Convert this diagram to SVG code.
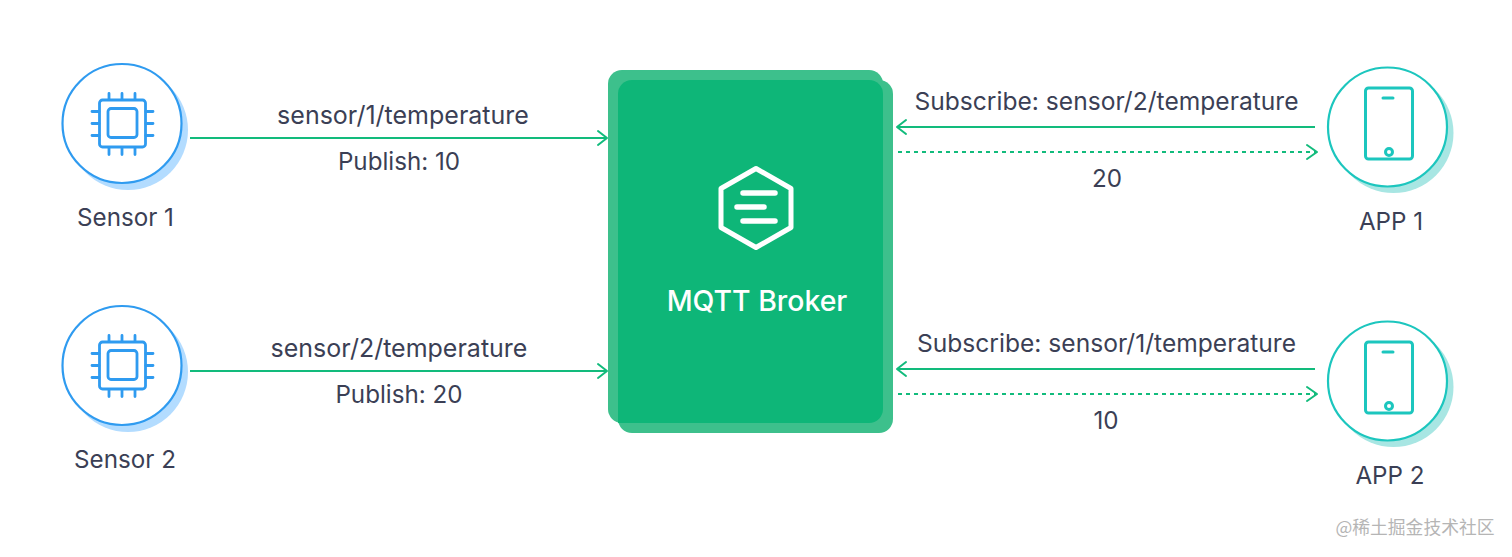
<svg xmlns="http://www.w3.org/2000/svg" width="1512" height="557" viewBox="0 0 1512 557">
<style>
text{font-family:"Inter","Liberation Sans",sans-serif;font-size:24.200px;fill:#3b3f55;text-anchor:middle}
.w{fill:#fff;stroke-width:2.2}
.si{fill:none;stroke:#2f9bf0;stroke-width:2.8;stroke-linecap:round;stroke-linejoin:round}
.ai{fill:none;stroke:#1cc6be;stroke-width:3;stroke-linecap:round;stroke-linejoin:round}
.c{fill:none;stroke:#12bb7c;stroke-width:2}
.d{stroke-dasharray:4 4}
.h{fill:none;stroke:#12bb7c;stroke-width:2;stroke-linecap:round;stroke-linejoin:round}
</style>
<defs>
<g id="chip"><rect class="si" x="-22.500" y="-23.500" width="46" height="47" rx="3"/><rect class="si" x="-14" y="-15" width="29" height="29" rx="3"/>
<path class="si" d="M-13-24v-6M0-24v-6M13-24v-6M-13 24v7M0 24v7M13 24v7M-23-12h-7M-23 0h-7M-23 12h-7M24-12h7M24 0h7M24 12h7"/></g>
<g id="phone"><rect class="ai" x="-22.500" y="-39" width="47" height="71" rx="3"/><path class="ai" d="M-5-29h10"/><circle class="ai" cx="1" cy="25" r="3.500"/></g>
</defs>
<rect width="1512" height="557" fill="#fff"/>
<g id="connectors">
<path class="c" d="M190 138H607"/><path class="h" d="M598 131l9 7-9 7"/>
<path class="c" d="M190 371H607"/><path class="h" d="M598 364l9 7-9 7"/>
<path class="c" d="M1315 127H897"/><path class="h" d="M906 120l-9 7 9 7"/>
<path class="c d" d="M898 152H1316"/><path class="h" d="M1307 145l10 7-10 7"/>
<path class="c" d="M1315 369H897"/><path class="h" d="M906 362l-9 7 9 7"/>
<path class="c d" d="M898 394H1316"/><path class="h" d="M1307 387l10 7-10 7"/>
</g>
<g id="sensor1"><circle cx="128" cy="130" r="60" fill="#b3dcff"/><circle class="w" cx="122" cy="123.500" r="59.500" stroke="#2f9bf0"/><use href="#chip" x="122" y="123.500"/><text x="125.500" y="226">Sensor 1</text></g>
<g id="sensor2"><circle cx="128" cy="372" r="60" fill="#b3dcff"/><circle class="w" cx="122" cy="365.500" r="59.500" stroke="#2f9bf0"/><use href="#chip" x="122" y="365.500"/><text x="125" y="468">Sensor 2</text></g>
<g id="app1"><circle cx="1393.500" cy="133" r="60" fill="#a8e6e3"/><circle class="w" cx="1387.500" cy="127" r="59.500" stroke="#1cc6be"/><use href="#phone" x="1388" y="127"/><text x="1391" y="230">APP 1</text></g>
<g id="app2"><circle cx="1393.500" cy="387" r="60" fill="#a8e6e3"/><circle class="w" cx="1387.500" cy="381" r="59.500" stroke="#1cc6be"/><use href="#phone" x="1388" y="381"/><text x="1390" y="484">APP 2</text></g>
<g id="broker">
<rect x="608" y="70" width="275" height="353" rx="14" fill="#3dc08c"/>
<rect x="618" y="80" width="275" height="353" rx="14" fill="#3dc08c"/>
<path d="M632 80H869a14 14 0 0 1 14 14V409a14 14 0 0 1-14 14H618V94a14 14 0 0 1 14-14Z" fill="#0eb678"/>
<path d="M756 168.500L791 188.500V227.500L756 247.500L721 227.500V188.500Z" fill="none" stroke="#fff" stroke-width="5" stroke-linejoin="round"/>
<path d="M743 193H775M737 207H764M743 221H775" fill="none" stroke="#fff" stroke-width="5.500" stroke-linecap="round"/>
<text x="757" y="310.500" style="fill:#fff;font-size:28.400px;font-weight:500">MQTT Broker</text>
</g>
<g id="labels">
<text x="403" y="124" style="font-size:25px">sensor/1/temperature</text>
<text x="399" y="170">Publish: 10</text>
<text x="399" y="357" style="font-size:25px">sensor/2/temperature</text>
<text x="399" y="403">Publish: 20</text>
<text x="1106.500" y="110" style="font-size:24.600px">Subscribe: sensor/2/temperature</text>
<text x="1107" y="187">20</text>
<text x="1106.500" y="352" style="font-size:24.600px">Subscribe: sensor/1/temperature</text>
<text x="1106" y="429">10</text>
<text x="1415" y="534" style="font-family:'Noto Sans CJK SC',sans-serif;font-size:17.800px;fill:#b5b5b5">@稀土掘金技术社区</text>
</g>
</svg>
